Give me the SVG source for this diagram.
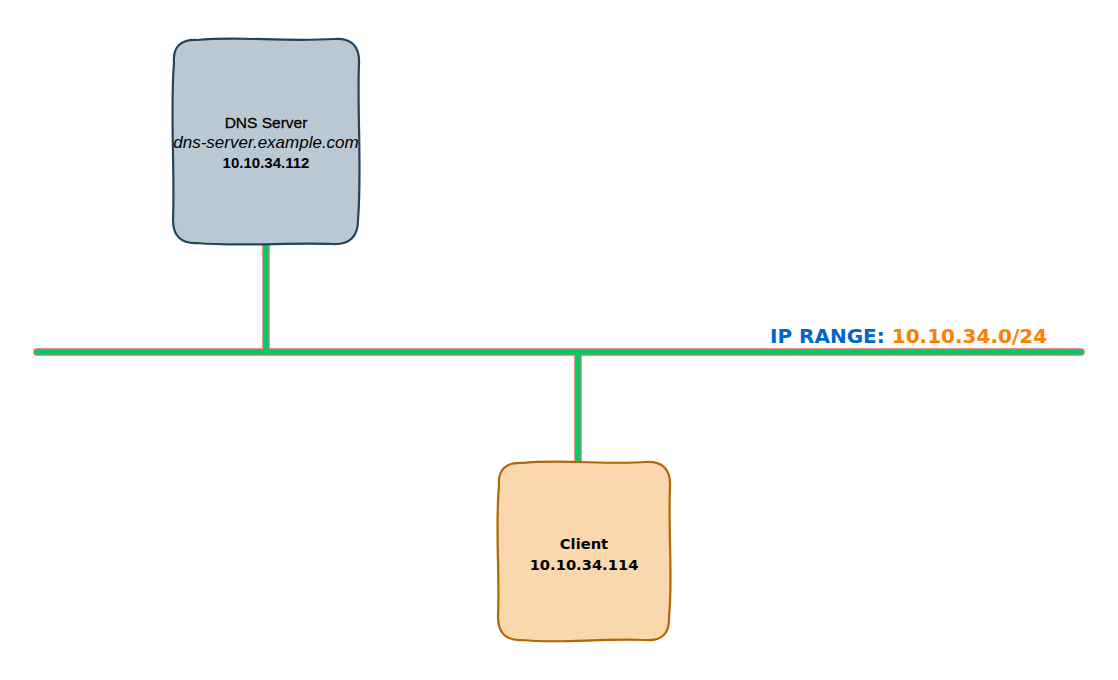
<svg xmlns="http://www.w3.org/2000/svg" width="1118" height="680" viewBox="0 0 1118 680">
<style>
.outer{stroke:#d9736f;stroke-width:7.5;stroke-linecap:round;fill:none}
.inner{stroke:#00cc66;stroke-width:5;stroke-linecap:round;fill:none}
.t{font-family:"DejaVu Sans",Verdana,sans-serif;text-anchor:middle;fill:#000}
.a{font-family:"Liberation Sans",Arial,sans-serif;text-anchor:middle;fill:#000}
</style>
<rect width="1118" height="680" fill="#fff"/>
<g id="connectors">
<line class="outer" x1="266" y1="245" x2="266" y2="350" style="stroke-linecap:butt"/>
<line class="outer" x1="578" y1="354" x2="578" y2="462" style="stroke-linecap:butt"/>
<line class="outer" x1="37" y1="352" x2="1081" y2="352"/>
<line class="inner" x1="266" y1="245" x2="266" y2="352" style="stroke-linecap:butt"/>
<line class="inner" x1="578" y1="352" x2="578" y2="462" style="stroke-linecap:butt"/>
<line class="inner" x1="37" y1="352" x2="1081" y2="352"/>
</g>
<g id="dns-server">
<path d="M197,40 C240,36 280,42 335,39 Q360,38 359,63 C357,110 362,170 358,220 Q358,245 333,244 C290,242 240,247 197,243 Q173,244 173,220 C175,170 170,110 174,63 Q172,39 197,40 Z" fill="#bac8d3" stroke="#23445d" stroke-width="2.2"/>
<text class="a" x="266" y="128" font-size="15.5" stroke="#000" stroke-width="0.3">DNS Server</text>
<text class="a" x="266" y="148" font-size="17" font-style="italic">dns-server.example.com</text>
<text class="a" x="266" y="168" font-size="15" font-weight="bold">10.10.34.112</text>
</g>
<g id="client">
<path d="M522,463 C560,459 610,465 646,462 Q671,461 670,486 C668,530 673,580 669,617 Q670,642 645,640 C600,638 560,644 522,640 Q498,641 498,617 C500,570 495,530 499,486 Q497,462 522,463 Z" fill="#fad7ac" stroke="#b46504" stroke-width="2.2"/>
<text class="t" x="584" y="549" font-size="14.7" font-weight="bold">Client</text>
<text class="t" x="584" y="570" font-size="14.7" font-weight="bold">10.10.34.114</text>
</g>
<g id="ip-range">
<text x="770" y="343" font-family="'DejaVu Sans',Verdana,sans-serif" font-size="20" font-weight="bold"><tspan fill="#0066cc">IP RANGE: </tspan><tspan fill="#ff8000">10.10.34.0/24</tspan></text>
</g>
</svg>
